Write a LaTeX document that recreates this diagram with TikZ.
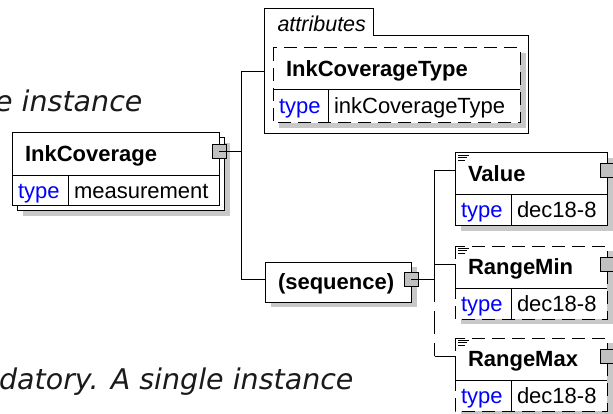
\documentclass[tikz,border=0pt]{standalone}
\usepackage{fontspec}
\setmainfont{Liberation Sans}
\newfontfamily\notefont{DejaVu Sans}
\usepackage{tikz}
\usetikzlibrary{backgrounds}
\usepackage{xcolor}
\definecolor{typeblue}{HTML}{0000FF}
\definecolor{shadowgray}{HTML}{C8C8C8}
\definecolor{portgray}{HTML}{C0C0C0}
\definecolor{notegray}{HTML}{1A1A1A}

\begin{document}
\begin{tikzpicture}[x=1pt, y=-1pt, line width=1pt,
    elhead/.style={anchor=north west, fill=white, outer sep=0pt, inner xsep=13pt,
        inner ysep=0pt, minimum height=42pt, text height=16pt, text depth=1pt,
        align=left, font=\fontsize{22}{24}\selectfont\bfseries},
    elcell/.style={anchor=north west, fill=white, outer sep=0pt, inner xsep=6pt,
        inner ysep=0pt, minimum height=31pt, text height=16pt, text depth=1pt,
        align=left, font=\fontsize{22}{24}\selectfont},
    typecell/.style={elcell, text=typeblue},
    port/.style={draw, fill=portgray, outer sep=0pt, minimum size=14pt, inner sep=0pt},
    optframe/.style={dash pattern=on 13pt off 7pt},
    optline/.style={dash pattern=on 23pt off 9pt},
    docmark/.style={line width=0.8pt},
    note/.style={text=notegray, inner sep=0pt,
        font=\notefont\itshape\fontsize{28.5}{31}\selectfont}]
    \useasboundingbox (0,0) rectangle (613,414);
    \clip (0,0) rectangle (613,414);

    % Surrounding text
    \node[note, anchor=base east] (notetop) at (143,112) {e instance};
    \node[note, anchor=base east] (notebottom) at (354,389) {datory. A single instance};

    % InkCoverage
    \node[elhead, draw, text width=181pt, minimum height=43pt] (ink) at (12,133) {InkCoverage};
    \node[typecell, draw, text width=44pt, minimum height=30pt] (inktype) at (ink.south west) {type};
    \node[elcell, draw, text width=139pt, minimum height=30pt] (inkval) at (inktype.north east) {measurement};
    \node[port] (inkport) at ([yshift=3pt]ink.east) {};

    % Attributes group
    \node[inner sep=0pt, outer sep=0pt, minimum width=264pt, minimum height=125pt,
          anchor=north west] (attr) at (264,9) {};
    \draw (attr.north west) -- ++(109,0) -- ++(0,27) -| (attr.south east)
        -- (attr.south west) -- cycle;
    \node[anchor=base west, inner sep=0pt,
          font=\fontsize{21.5}{24}\selectfont\itshape] (attrlabel) at (277,32) {attributes};
    \node[elhead, text width=221pt] (ict) at (273,48) {InkCoverageType};
    \node[typecell, text width=43pt, minimum height=33pt] (icttype) at (ict.south west) {type};
    \node[elcell, text width=180pt, minimum height=33pt] (ictval) at (icttype.north east) {inkCoverageType};
    \draw[optframe] (ict.north west) rectangle (ictval.south east);
    \draw (ict.south west) -- (ict.south east);
    \draw (icttype.north east) -- (icttype.south east);

    % Sequence
    \node[elhead, draw, text width=120pt, minimum height=40pt] (seq) at (265,262) {(sequence)};
    \node[port] (seqport) at ([yshift=3pt]seq.east) {};

    % Value
    \node[elhead, draw, text width=126pt] (value) at (455,153) {Value};
    \node[typecell, draw, text width=44pt] (valuetype) at (value.south west) {type};
    \node[elcell, draw, text width=84pt] (valueval) at (valuetype.north east) {dec18-8};
    \coordinate (valuein) at ([yshift=3pt]value.west);

    % RangeMin (optional)
    \node[elhead, text width=126pt] (rmin) at (455,246) {RangeMin};
    \node[typecell, text width=44pt] (rmintype) at (rmin.south west) {type};
    \node[elcell, text width=84pt] (rminval) at (rmintype.north east) {dec18-8};
    \coordinate (rminin) at ([yshift=3pt]rmin.west);
    \draw[optframe] (rmin.north west) rectangle (rminval.south east);
    \draw (rmin.south west) -- (rmin.south east);
    \draw (rmintype.north east) -- (rmintype.south east);
    \draw (rminin) -- (rmin.south west);

    % RangeMax (optional)
    \node[elhead, text width=126pt] (rmax) at (455,338) {RangeMax};
    \node[typecell, text width=44pt] (rmaxtype) at (rmax.south west) {type};
    \node[elcell, text width=84pt] (rmaxval) at (rmaxtype.north east) {dec18-8};
    \coordinate (rmaxin) at ([yshift=3pt]rmax.west);
    \draw[optframe] (rmax.north west) rectangle (rmaxval.south east);
    \draw (rmax.south west) -- (rmax.south east);
    \draw (rmaxtype.north east) -- (rmaxtype.south east);
    \draw (rmaxin) -- (rmax.south west);

    % Doc marks and child ports
    \draw[docmark] ([shift={(3,2)}]value.north west) -- ++(11,0)
        ([shift={(3,4.5)}]value.north west) -- ++(9,0)
        ([shift={(3,7)}]value.north west) -- ++(7,0);
    \draw[docmark] ([shift={(3,2)}]rmin.north west) -- ++(11,0)
        ([shift={(3,4.5)}]rmin.north west) -- ++(9,0)
        ([shift={(3,7)}]rmin.north west) -- ++(7,0);
    \draw[docmark] ([shift={(3,2)}]rmax.north west) -- ++(11,0)
        ([shift={(3,4.5)}]rmax.north west) -- ++(9,0)
        ([shift={(3,7)}]rmax.north west) -- ++(7,0);
    \node[port] (valueport) at ([yshift=3pt]value.east) {};
    \node[port] (rminport) at ([yshift=3pt]rmin.east) {};
    \node[port] (rmaxport) at ([yshift=3pt]rmax.east) {};

    % Connectors
    \draw (inkport.center) -- ++(22.5,0) coordinate (inkjoin);
    \draw (attr.west) -| (inkjoin) |- ([yshift=3pt]seq.west);
    \draw (seqport.center) -- ++(23.5,0) coordinate (seqjoin);
    \draw (seqjoin) |- (valuein);
    \draw (seqjoin) |- (rminin);
    \draw[optline] (seqjoin) -- (seqjoin |- rmaxin);
    \draw (seqjoin |- rmaxin) -- (rmaxin);

    % Shadows and back frame
    \begin{scope}[on background layer]
        \fill[white] (0,0) rectangle (613,414);
        \fill[shadowgray] ([shift={(11,10)}]ink.north west) rectangle ([shift={(11,10)}]inkval.south east);
        \draw[fill=white] ([shift={(5,4)}]ink.north west) rectangle ([shift={(5,4)}]inkval.south east);
        \fill[shadowgray] ([shift={(6,5)}]ict.north west) rectangle ([shift={(6,5)}]ictval.south east);
        \fill[shadowgray] ([shift={(6,5)}]seq.north west) rectangle ([shift={(6,5)}]seq.south east);
        \fill[shadowgray] ([shift={(6,5)}]value.north west) rectangle ([shift={(6,5)}]valueval.south east);
        \fill[shadowgray] ([shift={(6,5)}]rmin.north west) rectangle ([shift={(6,5)}]rminval.south east);
        \fill[shadowgray] ([shift={(6,5)}]rmax.north west) rectangle ([shift={(6,5)}]rmaxval.south east);
    \end{scope}
\end{tikzpicture}
\end{document}
